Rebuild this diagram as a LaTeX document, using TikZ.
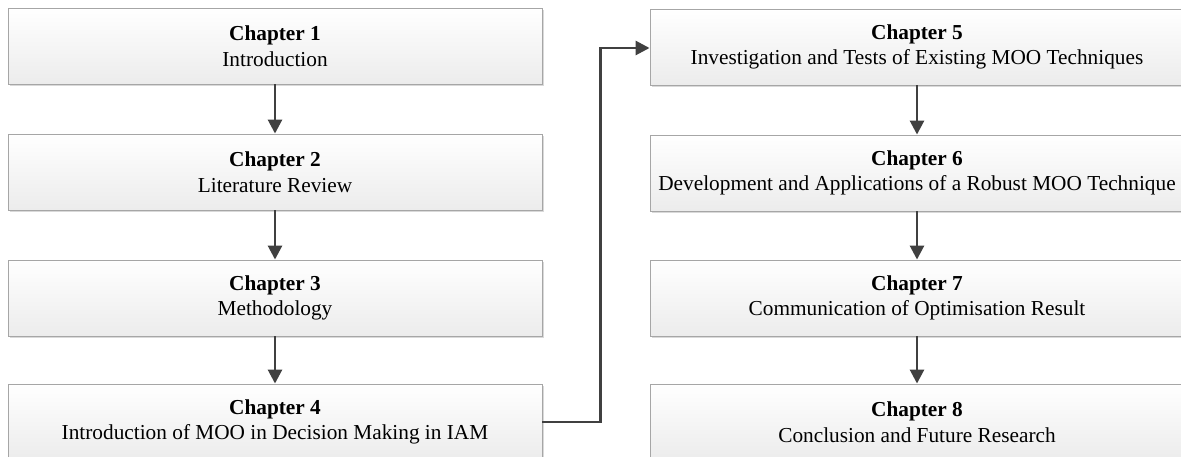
\documentclass[tikz,border=0pt]{standalone}
\usepackage{fontspec}
\setmainfont{Liberation Serif}
\usetikzlibrary{arrows.meta,shadows}
\definecolor{edgegray}{HTML}{A6A6A6}
\definecolor{arrowgray}{HTML}{404040}
\definecolor{fillbottom}{HTML}{ECECEC}
\begin{document}
\begin{tikzpicture}[x=1pt,y=-1pt,
  chapbox/.style={draw=edgegray, line width=0.9pt, top color=white, bottom color=fillbottom,
    minimum width=534pt, minimum height=76pt, align=center, inner sep=0pt,
    font=\fontsize{21.3}{25.5}\selectfont,
    drop shadow={shadow xshift=1.6pt, shadow yshift=-1.6pt, opacity=0.25, fill=black!60}},
  flow/.style={draw=arrowgray, line width=2.8pt, -{Triangle[length=14pt,width=14pt]}}]
  \useasboundingbox (0,0) rectangle (1181,457);
  \begin{scope}
  \clip (0,0) rectangle (1181,457);
  % left column
  \node[chapbox] (c1) at (275,46)  {\textbf{Chapter 1}\\Introduction};
  \node[chapbox] (c2) at (275,172) {\textbf{Chapter 2}\\Literature Review};
  \node[chapbox] (c3) at (275,298) {\textbf{Chapter 3}\\Methodology};
  \node[chapbox] (c4) at (275,422) {\textbf{Chapter 4}\\Introduction of MOO in Decision Making in IAM};
  % right column
  \node[chapbox] (c5) at (917,47)  {\textbf{Chapter 5}\\Investigation and Tests of Existing MOO Techniques};
  \node[chapbox] (c6) at (917,173) {\textbf{Chapter 6}\\Development and Applications of a Robust MOO Technique};
  \node[chapbox] (c7) at (917,298) {\textbf{Chapter 7}\\Communication of Optimisation Result};
  \node[chapbox] (c8) at (917,422) {\textbf{Chapter 8}\\Conclusion and Future Research};
  % connectors
  \draw[flow] (c1) -- (c2);
  \draw[flow] (c2) -- (c3);
  \draw[flow] (c3) -- (c4);
  \draw[flow] (c4.east) -- ++(58,0) |- ([yshift=-1pt]c5.west);
  \draw[flow] (c5) -- (c6);
  \draw[flow] (c6) -- (c7);
  \draw[flow] (c7) -- (c8);
  \end{scope}
\end{tikzpicture}
\end{document}
